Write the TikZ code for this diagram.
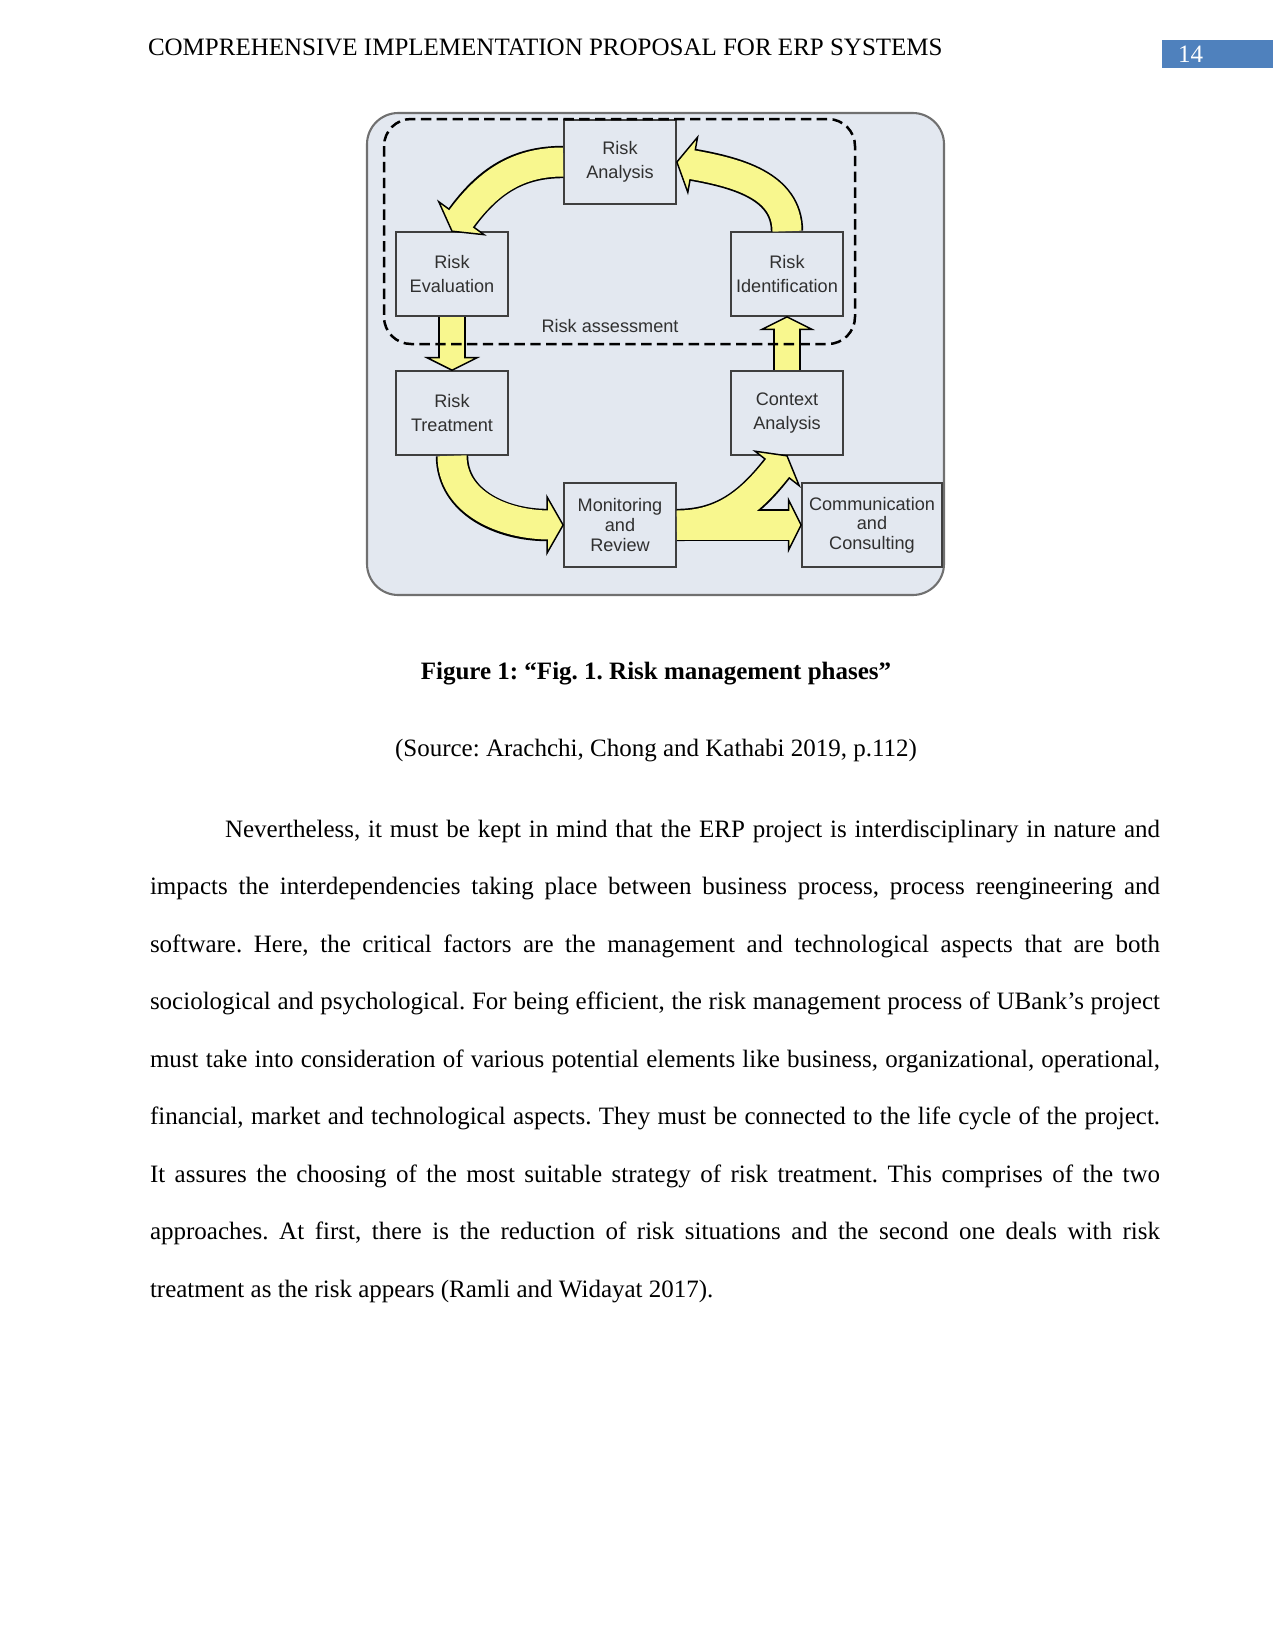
\documentclass[tikz,border=0pt]{standalone}
\usepackage{fontspec}
\setmainfont{Liberation Serif}
\newfontfamily\diafont{Liberation Sans}
\usetikzlibrary{calc, shapes.geometric}
\definecolor{panel}{HTML}{E3E8F0}
\definecolor{arrowfill}{HTML}{F8F78E}
\definecolor{boxline}{HTML}{3F3F3F}
\definecolor{frameline}{HTML}{707070}
\definecolor{boxtext}{HTML}{303030}
\definecolor{pagenum}{HTML}{4F81BD}

\begin{document}
\frenchspacing
\begin{tikzpicture}[
    x=0.48bp, y=0.48bp,
    every node/.style={inner sep=0pt, outer sep=0pt},
    pagetext/.style={font=\fontsize{12bp}{14bp}\selectfont},
    phase/.style={rectangle, draw=boxline, fill=panel, line width=0.75bp,
                  outer sep=0.4bp, minimum width=53.8bp, minimum height=40.3bp,
                  align=center, text=boxtext,
                  font=\diafont\fontsize{8.7bp}{11.5bp}\selectfont},
    phase3/.style={phase, font=\diafont\fontsize{8.7bp}{9.4bp}\selectfont},
    head/.style={isosceles triangle, isosceles triangle stretches,
                 minimum height=7.7bp, minimum width=26.9bp,
                 fill=arrowfill, draw=black, line width=0.7bp},
    headsm/.style={head, minimum height=6bp, minimum width=24bp},
    assess/.style={draw=black, line width=1.2bp, dash pattern=on 5bp off 2.6bp,
                   rounded corners=13bp},
]
\useasboundingbox (0,0) rectangle (1275,-1651);

% ================================================================ running head
\node[pagetext, anchor=base west] (runhead) at (148,-55)
    {COMPREHENSIVE IMPLEMENTATION PROPOSAL FOR ERP SYSTEMS};
\node[fill=pagenum, minimum width=53.3bp, minimum height=13.2bp, anchor=north west]
    (pnbox) at (1162,-40) {};
\node[pagetext, text=white, anchor=base west] (pnum) at (1178,-62) {14};

% ================================================================ figure
\draw[draw=frameline, fill=panel, line width=1bp, rounded corners=15bp]
    (367,-113) rectangle (944,-595);

\node[phase]  (ra) at (620,-162) {Risk\\Analysis};
\node[phase]  (re) at (452,-274) {Risk\\Evaluation};
\node[phase]  (ri) at (787,-274) {Risk\\Identification};
\node[phase]  (rt) at (452,-413) {Risk\\Treatment};
\node[phase]  (ca) at (787,-413) {Context\\Analysis};
\node[phase3] (mr) at (620,-525) {Monitoring\\and\\Review};
\node[phase3, minimum width=67.2bp] (cc) at (872,-525) {Communication\\and\\Consulting};

% arrow heads
\node[head, rotate=234, anchor=apex] (h1) at (re.north) {};
\node[head, rotate=170, anchor=apex] (h2) at (ra.east) {};
\node[head, rotate=0,   anchor=apex] (h3) at (mr.west) {};
\node[head, rotate=52,  anchor=apex] (h4) at (ca.south) {};
\node[headsm, rotate=-90, anchor=apex] (h5) at (rt.north) {};
\node[headsm, rotate=90,  anchor=apex] (h6) at (ri.south) {};
\node[headsm, rotate=0,   anchor=apex] (h7) at (cc.west) {};

% shafts: dark outline first, yellow on top
\foreach \a/\b/\o/\i/\w in {ra.west/h1/180/54/29, ri.north/h2/90/-10/29,
                            rt.south/h3/-90/180/29, mr.east/h4/0/232/29,
                            re.south/h5/-90/90/24, ca.north/h6/90/-90/24,
                            mr.east/h7/0/180/29}{
  \draw[draw=black, line width=(\w+3.4)*0.48bp] (\a) to[out=\o, in=\i] (\b.lower side);
}
\foreach \a/\b/\o/\i/\w in {ra.west/h1/180/54/29, ri.north/h2/90/-10/29,
                            rt.south/h3/-90/180/29, mr.east/h4/0/232/29,
                            re.south/h5/-90/90/24, ca.north/h6/90/-90/24,
                            mr.east/h7/0/180/29}{
  \draw[draw=arrowfill, line width=\w*0.48bp]
      (\a) to[out=\o, in=\i] ($(\b.lower side)!1.5bp!(\b.apex)$);
}

% the assessment loop
\draw[assess] (384,-119) rectangle (855,-344);
\node[text=boxtext, font=\diafont\fontsize{8.7bp}{10bp}\selectfont] (asslab)
    at (610,-326) {Risk assessment};

% ================================================================ caption
\node[pagetext, font=\fontsize{12bp}{14bp}\selectfont\bfseries, anchor=base] (cap)
    at (656,-679) {Figure 1: “Fig. 1. Risk management phases”};
\node[pagetext, anchor=base] (src) at (656,-756)
    {(Source: Arachchi, Chong and Kathabi 2019, p.112)};

% ================================================================ body
\node[anchor=base west, text width=484.8bp, align=justify,
      font=\fontsize{12bp}{27.6bp}\selectfont] (body) at (150,-837) {%
\tolerance=10000\hyphenpenalty=10000\noindent\hspace*{36bp}Nevertheless, it must be kept in mind that the ERP project is interdisciplinary in nature and\linebreak
impacts the interdependencies taking place between business process, process reengineering and\linebreak
software. Here, the critical factors are the management and technological aspects that are both\linebreak
sociological and psychological. For being efficient, the risk management process of UBank’s project\linebreak
must take into consideration of various potential elements like business, organizational, operational,\linebreak
financial, market and technological aspects. They must be connected to the life cycle of the project.\linebreak
It assures the choosing of the most suitable strategy of risk treatment. This comprises of the two\linebreak
approaches. At first, there is the reduction of risk situations and the second one deals with risk\linebreak
treatment as the risk appears (Ramli and Widayat 2017).};
\end{tikzpicture}
\end{document}
